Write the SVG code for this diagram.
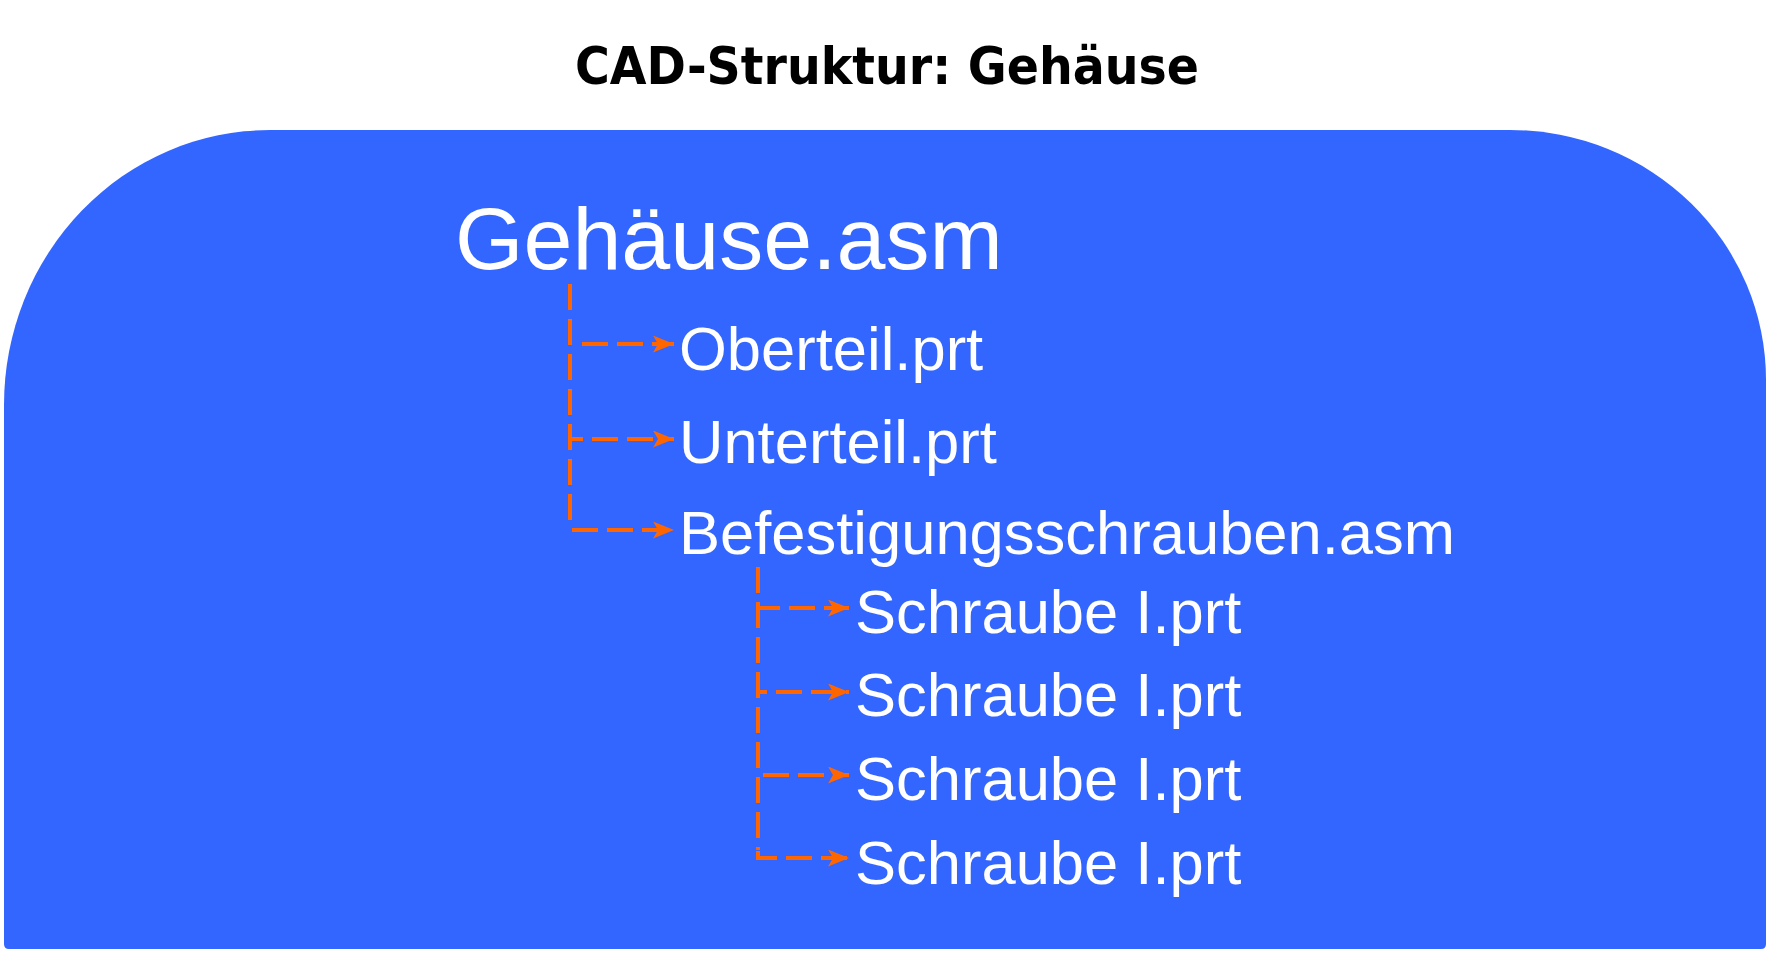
<svg xmlns="http://www.w3.org/2000/svg" width="1772" height="955" viewBox="0 0 1772 955">
<defs>
<style>
.title{font-family:"DejaVu Sans",Verdana,sans-serif;font-weight:bold;font-size:52px;fill:#000}
.lbl{font-family:"Liberation Sans",Arial,sans-serif;fill:#fff}
.big{font-size:88px}
.sm{font-size:61.5px}
.conn{stroke:#FF6600;stroke-width:4;fill:none;stroke-dasharray:26 9}
</style>
<marker id="arr" viewBox="0 0 21 17" refX="21" refY="8.5" markerWidth="21" markerHeight="17" markerUnits="userSpaceOnUse" orient="auto">
<path d="M0,0 L21,8.5 L0,17 L5,8.5 Z" fill="#FF6600"/>
</marker>
</defs>
<rect width="1772" height="955" fill="#fff"/>
<text class="title" x="887" y="84" text-anchor="middle" textLength="624" lengthAdjust="spacingAndGlyphs">CAD-Struktur: Gehäuse</text>
<g id="container">
<path d="M4,944 L4,405 A266,275 0 0 1 270,130 L1510,130 A256,250 0 0 1 1766,380 L1766,944 Q1766,949 1761,949 L9,949 Q4,949 4,944 Z" fill="#3366FF"/>
</g>
<g id="connectors">
<path class="conn" d="M570,284 L570,522"/>
<path class="conn" d="M582,344 L674,344" marker-end="url(#arr)"/>
<path class="conn" style="stroke-dashoffset:13" d="M570,439 L674,439" marker-end="url(#arr)"/>
<path class="conn" d="M572,530 L674,530" marker-end="url(#arr)"/>
<path class="conn" d="M758,567 L758,850"/>
<path class="conn" style="stroke-dashoffset:4" d="M758,608 L849,608" marker-end="url(#arr)"/>
<path class="conn" style="stroke-dashoffset:17" d="M758,692 L849,692" marker-end="url(#arr)"/>
<path class="conn" d="M763,775 L849,775" marker-end="url(#arr)"/>
<path class="conn" d="M758,851 L758,858 L849,858" marker-end="url(#arr)"/>
</g>
<g id="n-gehaeuse"><text class="lbl big" x="455" y="269">Gehäuse.asm</text></g>
<g id="n-oberteil"><text class="lbl sm" x="679" y="370">Oberteil.prt</text></g>
<g id="n-unterteil"><text class="lbl sm" x="679" y="463">Unterteil.prt</text></g>
<g id="n-befestigung"><text class="lbl sm" x="679" y="554">Befestigungsschrauben.asm</text></g>
<g id="n-schraube1"><text class="lbl sm" x="855" y="633">Schraube I.prt</text></g>
<g id="n-schraube2"><text class="lbl sm" x="855" y="716">Schraube I.prt</text></g>
<g id="n-schraube3"><text class="lbl sm" x="855" y="800">Schraube I.prt</text></g>
<g id="n-schraube4"><text class="lbl sm" x="855" y="884">Schraube I.prt</text></g>
</svg>
